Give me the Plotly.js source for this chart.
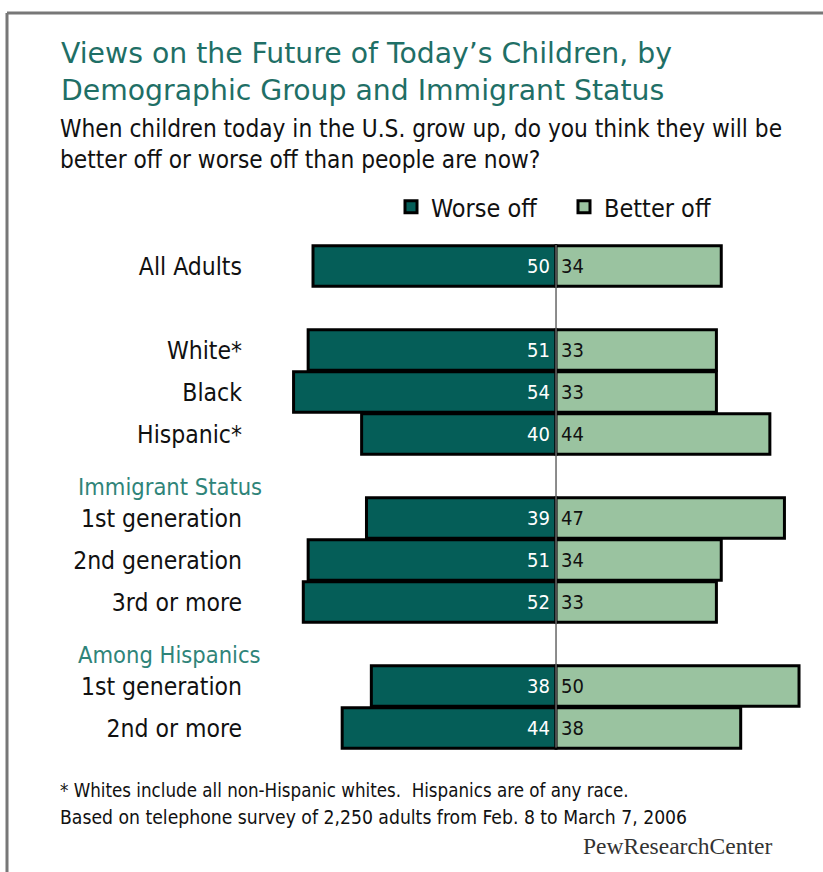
<!DOCTYPE html>
<html>
<head>
<meta charset="utf-8">
<script src="https://cdn.plot.ly/plotly-3.0.1.min.js"></script>
<style>
  html, body { margin: 0; padding: 0; background: #fff; }
  #chart { width: 823px; height: 872px; }
</style>
</head>
<body>
<div id="chart"></div>
<script>
// ---- data ----
const categories = ["All Adults", "White*", "Black", "Hispanic*",
  "1st generation", "2nd generation", "3rd or more",
  "1st generation", "2nd or more"];
const worseOff  = [50, 51, 54, 40, 39, 51, 52, 38, 44];
const betterOff = [34, 33, 33, 44, 47, 34, 33, 50, 38];
const groupOf = [0, 1, 1, 1, 2, 2, 2, 3, 3];
const groupHeaders = ["", "", "Immigrant Status", "Among Hispanics"];
const seriesNames = ["Worse off", "Better off"];

// ---- layout slots (one spacer slot before each new group) ----
const slots = [];
const headerSlots = [];
let s = 0;
for (let i = 0; i < categories.length; i++) {
  if (i > 0 && groupOf[i] !== groupOf[i - 1]) {
    headerSlots.push({ slot: s, text: groupHeaders[groupOf[i]] });
    s += 1;
  }
  slots.push(s);
  s += 1;
}

const W = 823, H = 872;
const M = { l: 251, r: 18, t: 240, b: 122 };
const PW = W - M.l - M.r, PH = H - M.t - M.b;
const px2x = px => (px - M.l) / PW;
const py2y = py => (H - M.b - py) / PH;

const FONT = '"DejaVu Sans Condensed", "DejaVu Sans", sans-serif';
const DARK = '#055e58';
const LIGHT = '#9ac3a0';

const traces = [
  {
    type: 'bar', orientation: 'h', name: seriesNames[0],
    y: slots, x: worseOff.map(v => -v),
    marker: { color: DARK, line: { color: '#000', width: 3 } },
    width: 0.96, hoverinfo: 'skip'
  },
  {
    type: 'bar', orientation: 'h', name: seriesNames[1],
    y: slots, x: betterOff,
    marker: { color: LIGHT, line: { color: '#000', width: 3 } },
    width: 0.96, hoverinfo: 'skip'
  }
];

const annotations = [];
categories.forEach((c, i) => {
  annotations.push({
    x: 0, y: slots[i], xref: 'x', yref: 'y', text: String(worseOff[i]),
    xanchor: 'right', yanchor: 'middle', xshift: -4, showarrow: false,
    font: { family: FONT, size: 20, color: '#fff' }
  });
  annotations.push({
    x: 0, y: slots[i], xref: 'x', yref: 'y', text: String(betterOff[i]),
    xanchor: 'left', yanchor: 'middle', xshift: 3, showarrow: false,
    font: { family: FONT, size: 20, color: '#111' }
  });
});
headerSlots.forEach(h => {
  if (!h.text) return;
  annotations.push({
    x: px2x(76), y: h.slot, xref: 'paper', yref: 'y', text: h.text,
    xanchor: 'left', yanchor: 'middle', yshift: -11, showarrow: false,
    font: { family: FONT, size: 23.5, color: '#2f8479' }
  });
});
// subtitle
annotations.push({
  x: px2x(58), y: py2y(144), xref: 'paper', yref: 'paper', showarrow: false,
  text: 'When children today in the U.S. grow up, do you think they will be<br>better off or worse off than people are now?',
  align: 'left', xanchor: 'left', yanchor: 'middle',
  font: { family: FONT, size: 24.2, color: '#111' }
});
// footnotes
annotations.push({
  x: px2x(58), y: py2y(790), xref: 'paper', yref: 'paper', showarrow: false,
  text: '* Whites include all non-Hispanic whites.  Hispanics are of any race.',
  xanchor: 'left', yanchor: 'middle',
  font: { family: FONT, size: 18.6, color: '#111' }
});
annotations.push({
  x: px2x(58), y: py2y(817), xref: 'paper', yref: 'paper', showarrow: false,
  text: 'Based on telephone survey of 2,250 adults from Feb. 8 to March 7, 2006',
  xanchor: 'left', yanchor: 'middle',
  font: { family: FONT, size: 19.2, color: '#111' }
});
annotations.push({
  x: px2x(774), y: py2y(846), xref: 'paper', yref: 'paper', showarrow: false,
  text: 'PewResearchCenter',
  xanchor: 'right', yanchor: 'middle',
  font: { family: '"Liberation Serif", serif', size: 23.5, color: '#333' }
});

const xMin = -62.76, xMax = 51.23;
const layout = {
  width: W, height: H,
  margin: { l: M.l, r: M.r, t: M.t, b: M.b, pad: 0 },
  paper_bgcolor: '#fff', plot_bgcolor: '#fff',
  barmode: 'overlay',
  showlegend: true,
  font: { family: FONT, color: '#111' },
  title: {
    text: 'Views on the Future of Today\u2019s Children, by<br>Demographic Group and Immigrant Status',
    x: 61 / W, xref: 'container', xanchor: 'left',
    y: 1 - 63 / H, yref: 'container', yanchor: 'top',
    font: { family: '"DejaVu Sans", sans-serif', size: 28.3, color: '#1f6f66' }
  },
  xaxis: {
    range: [xMin, xMax], showgrid: false, zeroline: false,
    showticklabels: false, ticks: '', showline: false, fixedrange: true
  },
  yaxis: {
    range: [11.524, -0.619], showgrid: false, zeroline: false,
    tickmode: 'array', tickvals: slots, ticktext: categories,
    ticks: '', ticklabelstandoff: 8, showline: false,
    tickfont: { family: FONT, size: 24.5, color: '#111' }, fixedrange: true
  },
  legend: {
    orientation: 'h', x: 391 / W, xref: 'container', xanchor: 'left',
    y: 1 - 207 / H, yref: 'container', yanchor: 'middle',
    font: { family: FONT, size: 25, color: '#111' },
    bgcolor: 'rgba(0,0,0,0)', traceorder: 'normal', itemwidth: 30,
    entrywidth: 128, entrywidthmode: 'pixels'
  },
  annotations: annotations,
  shapes: [
    { type: 'line', xref: 'x', yref: 'paper', x0: 0, x1: 0, y0: 0.005, y1: 0.99,
      line: { color: '#666', width: 1.5 }, layer: 'above' },
    { type: 'line', xref: 'paper', yref: 'paper',
      x0: px2x(7), x1: px2x(W), y0: py2y(13), y1: py2y(13),
      line: { color: '#777', width: 3 }, layer: 'above' },
    { type: 'line', xref: 'paper', yref: 'paper',
      x0: px2x(7), x1: px2x(7), y0: py2y(13), y1: py2y(H),
      line: { color: '#777', width: 3 }, layer: 'above' }
  ]
};

Plotly.newPlot('chart', traces, layout, { displayModeBar: false, staticPlot: true });
</script>
</body>
</html>
